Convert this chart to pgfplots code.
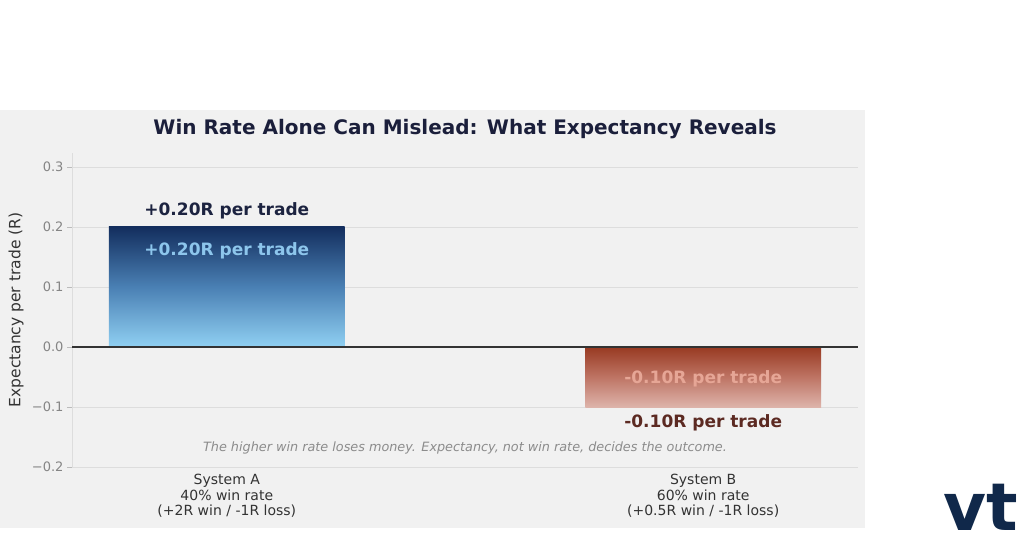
\documentclass[border=0pt]{standalone}
\usepackage{pgfplots}
\pgfplotsset{compat=1.18}
\usepackage{fontspec}
\setmainfont{DejaVu Sans}
\definecolor{panel}{HTML}{F1F1F1}
\definecolor{gridc}{HTML}{DDDDDD}
\definecolor{tickc}{HTML}{BBBBBB}
\definecolor{ticklab}{HTML}{858585}
\definecolor{xlab}{HTML}{333333}
\definecolor{titlec}{HTML}{1B1F3B}
\definecolor{aTop}{HTML}{132E5E}
\definecolor{aMid}{HTML}{4A80B4}
\definecolor{aBot}{HTML}{90D0F2}
\definecolor{bTop}{HTML}{983A22}
\definecolor{bMid}{HTML}{BE7464}
\definecolor{bBot}{HTML}{DDB3AA}
\definecolor{labA}{HTML}{1C2340}
\definecolor{labAin}{HTML}{8DC6EC}
\definecolor{labBin}{HTML}{E6A696}
\definecolor{labB}{HTML}{5C2A22}
\definecolor{notec}{HTML}{8C8C8C}
\definecolor{zeroc}{HTML}{333333}
\definecolor{logoc}{HTML}{10284A}
\begin{document}
\begin{tikzpicture}[x=1pt,y=1pt]
\useasboundingbox (0,0) rectangle (1024,558);
\fill[white] (0,0) rectangle (1024,558);
\fill[panel] (0,30) rectangle (865,448);
\begin{axis}[
  at={(72pt,91pt)}, anchor=south west,
  scale only axis, width=786pt, height=314pt,
  xmin=-0.325, xmax=1.325, ymin=-0.2, ymax=0.3233,
  axis x line*=bottom, axis y line*=left,
  x axis line style={draw=none},
  y axis line style={draw=gridc, line width=0.8pt, -},
  xtick={0,1},
  xticklabels={{System A\\40\% win rate\\(+2R win / -1R loss)},{System B\\60\% win rate\\(+0.5R win / -1R loss)}},
  xtick style={draw=none},
  xticklabel style={align=center, text=xlab, inner sep=0pt, yshift=-2pt, font=\fontsize{14}{15.5}\selectfont},
  ytick={-0.2,-0.1,0,0.1,0.2,0.3},
  yticklabels={−0.2,−0.1,0.0,0.1,0.2,0.3},
  yticklabel style={text=ticklab, font=\fontsize{13}{15}\selectfont},
  ytick style={draw=tickc, line width=0.8pt},
  tick align=outside, major tick length=5pt,
  ymajorgrids, grid style={draw=gridc, line width=0.8pt},
  title={Win Rate Alone Can Mislead: What Expectancy Reveals},
  title style={at={(0.5,1)}, anchor=center, yshift=18pt, text=titlec, font=\fontsize{20}{22}\selectfont\bfseries},
  ylabel={Expectancy per trade (R)},
  every axis y label/.style={at={(axis description cs:0,0.5)}, rotate=90, anchor=center, yshift=56pt, text=xlab, font=\fontsize{15.5}{17}\selectfont},
  clip=false,
]
\addplot[ybar, bar width=0.495, bar shift=0pt, draw=none, top color=aTop, bottom color=aBot, middle color=aMid] coordinates {(0,0.2)};
\addplot[ybar, bar width=0.495, bar shift=0pt, draw=none, top color=bTop, bottom color=bBot, middle color=bMid] coordinates {(1,-0.1)};
\addplot[zeroc, line width=1.4pt, mark=none] coordinates {(-0.325,0) (1.325,0)};
\node[font=\fontsize{17}{20}\selectfont\bfseries, text=labA, yshift=16pt] at (axis cs:0,0.2) {+0.20R per trade};
\node[font=\fontsize{17}{20}\selectfont\bfseries, text=labAin, yshift=-24pt] at (axis cs:0,0.2) {+0.20R per trade};
\node[font=\fontsize{17}{20}\selectfont\bfseries, text=labBin, yshift=-2pt] at (axis cs:1,-0.05) {-0.10R per trade};
\node[font=\fontsize{17}{20}\selectfont\bfseries, text=labB, yshift=-16pt] at (axis cs:1,-0.1) {-0.10R per trade};
\node[font=\fontsize{12.8}{14}\selectfont\itshape, text=notec] at (axis cs:0.5,-0.168) {The higher win rate loses money. Expectancy, not win rate, decides the outcome.};
\end{axis}
\node[font=\fontsize{66}{66}\selectfont\bfseries, text=logoc, anchor=base, inner sep=0pt] at (981,28) {vt};
\end{tikzpicture}
\end{document}
